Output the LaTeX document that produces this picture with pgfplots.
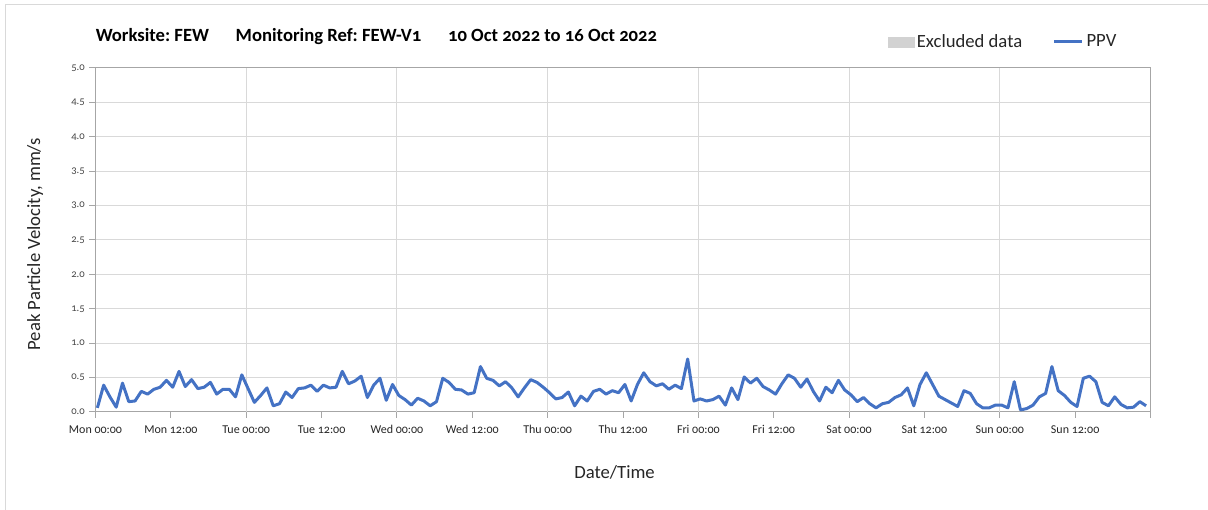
\documentclass[border=0pt]{standalone}
\usepackage{fontspec}
\setmainfont{Carlito}[Numbers=OldStyle]
\usepackage{pgfplots}
\usepackage{pgfplotstable}
\pgfplotsset{compat=1.18}
\definecolor{ppvblue}{RGB}{68,114,196}
\definecolor{gridgray}{RGB}{217,217,217}
\definecolor{axisgray}{RGB}{166,166,166}
\definecolor{exclgray}{RGB}{210,210,210}
\definecolor{txt}{RGB}{38,38,38}

\pgfplotsset{
  ppvlegend/.style={legend image code/.code={\draw[##1] (0pt,0pt) -- (21pt,0pt);}},
  excllegend/.style={legend image code/.code={\fill[exclgray] (0pt,-3.75pt) rectangle (19pt,3.75pt);}},
}

% hourly PPV, mm/s (index = hours from Mon 00:00)
\pgfplotstableread{
i v
0 0.06
1 0.39
2 0.22
3 0.07
4 0.42
5 0.15
6 0.16
7 0.30
8 0.26
9 0.33
10 0.36
11 0.46
12 0.36
13 0.59
14 0.37
15 0.47
16 0.34
17 0.36
18 0.43
19 0.26
20 0.33
21 0.33
22 0.22
23 0.54
24 0.34
25 0.14
26 0.24
27 0.35
28 0.09
29 0.12
30 0.29
31 0.21
32 0.34
33 0.35
34 0.39
35 0.30
36 0.39
37 0.35
38 0.36
39 0.59
40 0.41
41 0.45
42 0.52
43 0.21
44 0.39
45 0.49
46 0.17
47 0.40
48 0.24
49 0.18
50 0.10
51 0.20
52 0.16
53 0.09
54 0.15
55 0.49
56 0.43
57 0.33
58 0.32
59 0.26
60 0.28
61 0.66
62 0.49
63 0.46
64 0.38
65 0.44
66 0.35
67 0.22
68 0.35
69 0.47
70 0.43
71 0.36
72 0.28
73 0.19
74 0.21
75 0.29
76 0.09
77 0.23
78 0.16
79 0.30
80 0.33
81 0.26
82 0.31
83 0.28
84 0.40
85 0.16
86 0.40
87 0.57
88 0.44
89 0.38
90 0.41
91 0.33
92 0.39
93 0.34
94 0.77
95 0.16
96 0.19
97 0.16
98 0.18
99 0.23
100 0.10
101 0.35
102 0.18
103 0.51
104 0.42
105 0.49
106 0.37
107 0.32
108 0.26
109 0.41
110 0.54
111 0.49
112 0.36
113 0.48
114 0.30
115 0.16
116 0.36
117 0.28
118 0.46
119 0.32
120 0.25
121 0.15
122 0.21
123 0.12
124 0.06
125 0.12
126 0.14
127 0.21
128 0.25
129 0.35
130 0.09
131 0.40
132 0.57
133 0.40
134 0.23
135 0.18
136 0.13
137 0.08
138 0.31
139 0.27
140 0.12
141 0.06
142 0.06
143 0.10
144 0.10
145 0.06
146 0.44
147 0.03
148 0.05
149 0.10
150 0.22
151 0.27
152 0.66
153 0.31
154 0.24
155 0.14
156 0.08
157 0.49
158 0.52
159 0.44
160 0.14
161 0.09
162 0.22
163 0.11
164 0.06
165 0.07
166 0.15
167 0.09
}\ppvdata

\begin{document}
\frenchspacing
\begin{tikzpicture}
\begin{axis}[
    scale only axis,
    width=791.25pt, height=258pt,
    xmin=0, xmax=168,
    ymin=0, ymax=5,
    clip=false,
    xtick={0,12,...,168},
    xticklabels={Mon 00:00, Mon 12:00, Tue 00:00, Tue 12:00, Wed 00:00, Wed 12:00,
      Thu 00:00, Thu 12:00, Fri 00:00, Fri 12:00, Sat 00:00, Sat 12:00,
      Sun 00:00, Sun 12:00, {}},
    extra x ticks={24,48,...,144},
    extra x tick labels={},
    extra x tick style={grid=major, major tick length=0pt},
    ytick={0,0.5,...,5},
    ymajorgrids=true,
    major grid style={gridgray, line width=0.75pt},
    axis line style={axisgray, line width=0.75pt},
    tick style={axisgray, line width=0.75pt},
    tick align=outside,
    major tick length=4.5pt,
    xtick pos=lower, ytick pos=lower,
    yticklabel style={/pgf/number format/fixed, /pgf/number format/fixed zerofill,
      /pgf/number format/precision=1, /pgf/number format/assume math mode=true,
      font=\fontsize{8}{9}\selectfont, text=txt!85},
    xticklabel style={font=\fontsize{9}{10}\selectfont, text=txt, yshift=-2pt},
    xlabel={Date/Time},
    xlabel style={at={(axis description cs:0.492,-0.1744)}, anchor=center, font=\fontsize{14}{16}\selectfont, text=txt},
    ylabel={Peak Particle Velocity, mm/s},
    ylabel style={at={(axis description cs:-0.0573,0.488)}, anchor=center, font=\fontsize{14}{16}\selectfont, text=txt},
    legend style={draw=none, fill=none, at={(0.7512,1.0756)}, anchor=west,
      legend columns=2, inner sep=0pt, font=\fontsize{14}{16}\selectfont, text=txt,
      nodes={inner sep=0pt},
      /tikz/every odd column/.append style={column sep=2pt},
      /tikz/every even column/.append style={column sep=23pt}},
]
\addlegendimage{excllegend}
\addlegendentry{Excluded data}
\addplot[ppvblue, line width=2.25pt, line join=round, ppvlegend]
  table[x expr=\thisrow{i}+0.3, y=v] {\ppvdata};
\addlegendentry{PPV}

\node[anchor=west, inner sep=0pt, font=\bfseries\fontsize{14}{16}\selectfont, text=black]
  at (rel axis cs:0,1.0901)
  {Worksite: FEW\hspace{20pt}Monitoring Ref: FEW-V1\hspace{20pt}10 Oct 2022 to 16 Oct 2022};

\draw[gridgray, line width=0.75pt] (rel axis cs:-0.08531,-0.28488) -- (rel axis cs:-0.08531,1.18459) -- (rel axis cs:1.0545,1.18459);
\coordinate (bl) at (rel axis cs:-0.09052,-0.28488);
\coordinate (tr) at (rel axis cs:1.0545,1.19767);
\end{axis}
\pgfresetboundingbox
\path (bl) rectangle (tr);
\end{tikzpicture}
\end{document}
